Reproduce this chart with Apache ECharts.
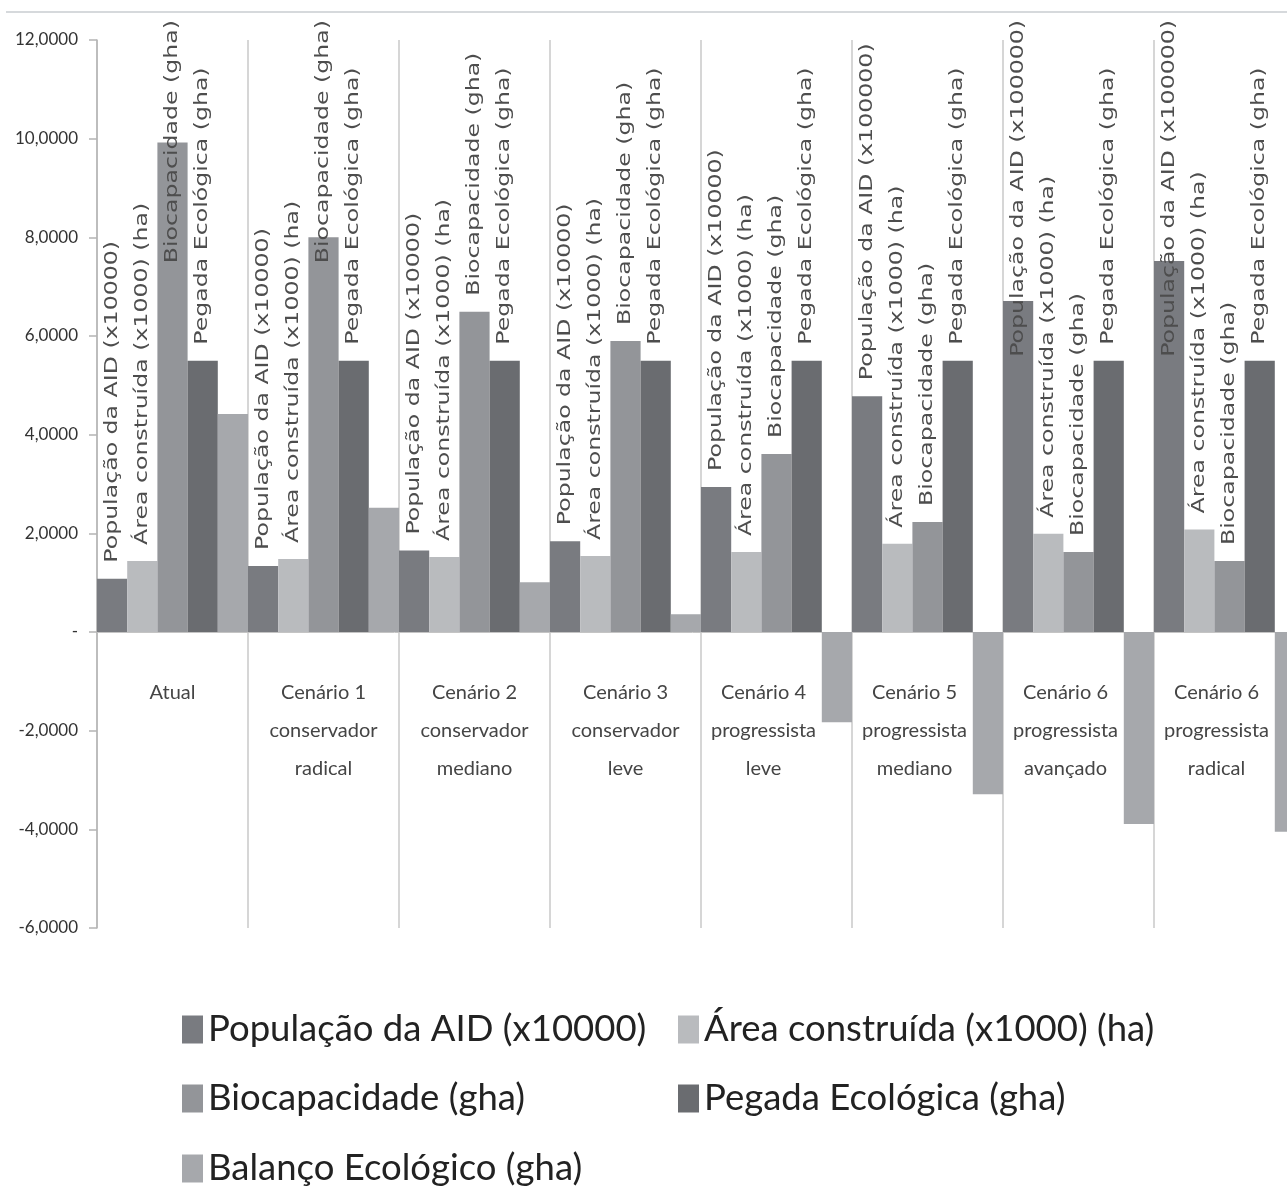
<!DOCTYPE html>
<html>
<head>
<meta charset="utf-8">
<script src="https://cdn.jsdelivr.net/npm/echarts@6/dist/echarts.min.js"></script>
<style>
  html, body { margin: 0; padding: 0; background: #ffffff; }
  #chart { width: 1287px; height: 1200px; }
</style>
</head>
<body>
<div id="chart"></div>
<script>
// Scenario categories (x axis)
const categories = [
  'Atual',
  'Cenário 1\nconservador\nradical',
  'Cenário 2\nconservador\nmediano',
  'Cenário 3\nconservador\nleve',
  'Cenário 4\nprogressista\nleve',
  'Cenário 5\nprogressista\nmediano',
  'Cenário 6\nprogressista\navançado',
  'Cenário 6\nprogressista\nradical'
];

// Series names
const seriesNames = [
  'População da AID (x10000)',
  'Área construída (x1000) (ha)',
  'Biocapacidade (gha)',
  'Pegada Ecológica (gha)',
  'Balanço Ecológico (gha)'
];

// Values per scenario
const populacao = [1.08, 1.34, 1.65, 1.84, 2.94, 4.78, 6.71, 7.52];
const areaConstruida = [1.44, 1.48, 1.52, 1.54, 1.62, 1.79, 1.99, 2.08];
const biocapacidade = [9.92, 8.00, 6.49, 5.90, 3.61, 2.23, 1.62, 1.44];
const pegadaEcologica = [5.50, 5.50, 5.50, 5.50, 5.50, 5.50, 5.50, 5.50];
const balancoEcologico = [4.42, 2.52, 1.01, 0.36, -1.83, -3.29, -3.89, -4.05];

// Vertical text written above each bar
const populacaoLabels = [
  'População da AID (x10000)', 'População da AID (x10000)', 'População da AID (x10000)',
  'População da AID (x10000)', 'População da AID (x10000)', 'População da AID (x100000)',
  'População da AID (x100000)', 'População da AID (x100000)'
];
const areaLabels = categories.map(() => 'Área construída (x1000) (ha)');
const bioLabels = categories.map(() => 'Biocapacidade (gha)');
const pegadaLabels = categories.map(() => 'Pegada Ecológica (gha)');

// Value axis range
const yMin = -6;
const yMax = 12;
const yStep = 2;

const barColors = ['#797b80', '#b9bbbe', '#939599', '#6a6c70', '#a6a8ac'];
const TEXT_FAMILY = 'Lato, "DejaVu Sans Condensed", sans-serif';
const LABEL_FAMILY = '"DejaVu Sans", Verdana, sans-serif';
const LABEL_FONT_SIZE = 17;
const LABEL_STRETCH = 1.39;   // vertical labels are drawn elongated along the text
const LABEL_GAP = 16;         // distance between bar top and label start
const LABEL_OVERSHOOT = 20;   // how far labels may rise above the plot top

const measureCtx = document.createElement('canvas').getContext('2d');
function textWidth(str) {
  measureCtx.font = LABEL_FONT_SIZE + 'px ' + LABEL_FAMILY;
  return measureCtx.measureText(str).width;
}

// Rotated text for one bar series, positioned from the axes' own scale
function labelSeries(name, values, texts, slot) {
  return {
    name: name,
    type: 'custom',
    z: 10,
    silent: true,
    clip: false,
    data: values.map((v, i) => [i, v]),
    encode: { x: 0, y: 1 },
    itemStyle: { color: barColors[slot] },
    renderItem: function (params, api) {
      const i = api.value(0);
      const v = api.value(1);
      const pt = api.coord([i, v]);
      const band = api.size([1, 0])[0];
      const barW = band / seriesNames.length;
      const x = pt[0] + (slot - (seriesNames.length - 1) / 2) * barW;
      const text = texts[i];
      const len = textWidth(text) * LABEL_STRETCH;
      const minTop = params.coordSys.y - LABEL_OVERSHOOT;
      const y = Math.max(pt[1] - LABEL_GAP, minTop + len);
      return {
        type: 'text',
        x: x,
        y: y,
        rotation: Math.PI / 2,
        scaleX: LABEL_STRETCH,
        scaleY: 1,
        style: {
          text: text,
          fontSize: LABEL_FONT_SIZE,
          fontFamily: LABEL_FAMILY,
          fill: '#4d4d4d',
          align: 'left',
          verticalAlign: 'middle'
        }
      };
    }
  };
}

const seriesValues = [populacao, areaConstruida, biocapacidade, pegadaEcologica, balancoEcologico];

const barSeries = seriesNames.map((name, k) => ({
  name: name,
  type: 'bar',
  data: seriesValues[k],
  barGap: '0%',
  barCategoryGap: '0%',
  z: 2,
  itemStyle: { color: barColors[k] },
  emphasis: { disabled: true }
}));

const textSeries = [
  labelSeries(seriesNames[0], populacao, populacaoLabels, 0),
  labelSeries(seriesNames[1], areaConstruida, areaLabels, 1),
  labelSeries(seriesNames[2], biocapacidade, bioLabels, 2),
  labelSeries(seriesNames[3], pegadaEcologica, pegadaLabels, 3)
];

// Legend laid out as two columns, three rows
const legendSlots = [[182, 1011], [678, 1011], [182, 1080], [678, 1080], [182, 1150]];
const legends = seriesNames.map((name, k) => ({
  data: [name],
  left: legendSlots[k][0],
  top: legendSlots[k][1],
  padding: 0,
  itemGap: 0,
  itemWidth: 21,
  itemHeight: 28,
  icon: 'rect',
  itemStyle: { borderWidth: 0 },
  textStyle: { fontFamily: TEXT_FAMILY, fontSize: 36.5, color: '#222222' }
}));

function formatTick(v) {
  if (v === 0) return '-';
  return v.toFixed(4).replace('.', ',');
}

// Category names: where the balance bar hangs below zero, the text is nudged left of it
function formatCategory(value, index) {
  const style = balancoEcologico[index] < 0 ? 's' : 'n';
  return value.split('\n').map(line => '{' + style + '|' + line + '}').join('\n');
}

const catText = { fontFamily: TEXT_FAMILY, fontSize: 20, lineHeight: 38, color: '#454545' };

const chart = echarts.init(document.getElementById('chart'), null, { renderer: 'canvas' });
chart.setOption({
  backgroundColor: '#ffffff',
  animation: false,
  grid: { left: 97, top: 40, width: 1208, height: 888, containLabel: false, outerBoundsMode: 'none' },
  graphic: [{
    type: 'line',
    shape: { x1: 6, y1: 12, x2: 1287, y2: 12 },
    style: { stroke: '#c8ccd0', lineWidth: 1.5 }
  }],
  legend: legends,
  xAxis: {
    type: 'category',
    data: categories,
    axisLine: { show: true, onZero: true, lineStyle: { color: '#c4c4c4', width: 1 } },
    axisTick: { show: false },
    axisLabel: {
      interval: 0,
      // labels sit just under the zero line, inside the plot
      margin: -254,
      fontFamily: TEXT_FAMILY,
      fontSize: 20,
      lineHeight: 38,
      color: '#454545',
      formatter: formatCategory,
      rich: {
        n: Object.assign({}, catText),
        s: Object.assign({ padding: [0, 26, 0, 0] }, catText)
      }
    },
    splitLine: { show: true, interval: 0, lineStyle: { color: '#c8c8c8', width: 1.5 } }
  },
  yAxis: {
    type: 'value',
    min: yMin,
    max: yMax,
    interval: yStep,
    axisLine: { show: true, lineStyle: { color: '#b4b4b4', width: 1.5 } },
    axisTick: { show: true, length: 8, lineStyle: { color: '#b4b4b4', width: 1.5 } },
    splitLine: { show: false },
    axisLabel: {
      margin: 19,
      fontFamily: TEXT_FAMILY,
      fontSize: 17,
      color: '#333333',
      formatter: formatTick
    }
  },
  series: barSeries.concat(textSeries)
});
</script>
</body>
</html>
